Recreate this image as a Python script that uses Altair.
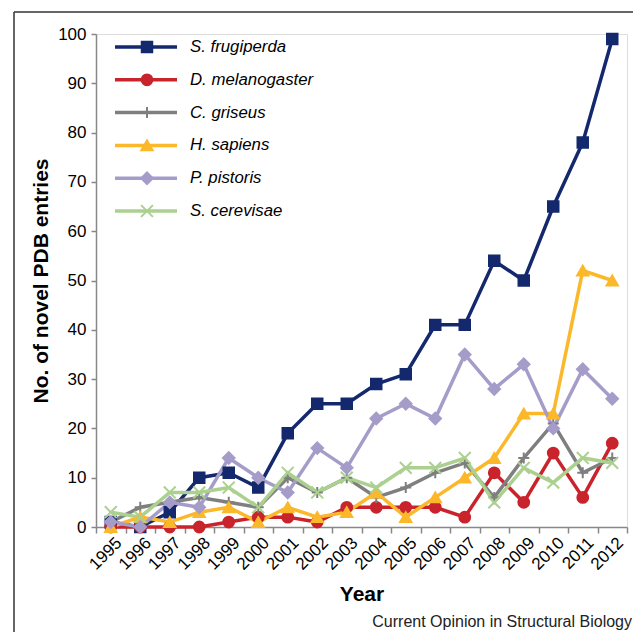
import altair as alt
import pandas as pd

years = [str(y) for y in range(1995, 2013)]
series = ["S. frugiperda", "D. melanogaster", "C. griseus", "H. sapiens", "P. pistoris", "S. cerevisae"]
s_frugiperda = [1, 0, 3, 10, 11, 8, 19, 25, 25, 29, 31, 41, 41, 54, 50, 65, 78, 99]
d_melanogaster = [0, 0, 0, 0, 1, 2, 2, 1, 4, 4, 4, 4, 2, 11, 5, 15, 6, 17]
c_griseus = [1, 4, 5, 6, 5, 4, 10, 7, 10, 6, 8, 11, 13, 6, 14, 21, 11, 14]
h_sapiens = [0, 2, 1, 3, 4, 1, 4, 2, 3, 7, 2, 6, 10, 14, 23, 23, 52, 50]
p_pistoris = [1, 0, 5, 4, 14, 10, 7, 16, 12, 22, 25, 22, 35, 28, 33, 20, 32, 26]
s_cerevisae = [3, 2, 7, 7, 8, 4, 11, 7, 10, 8, 12, 12, 14, 5, 12, 9, 14, 13]
y_ticks = list(range(0, 101, 10))
source_note = ["Current Opinion in Structural Biology"]

colors = ["#14286e", "#c9232b", "#7f7f7f", "#fbb82a", "#a59cc9", "#abd08f"]
fills = ["#14286e", "#c9232b", "transparent", "#fbb82a", "#a59cc9", "transparent"]
shapes = ["square", "circle", "M-1,0H1M0,-1V1", "triangle-up", "diamond", "M-1,-1L1,1M-1,1L1,-1"]
sizes = [110, 140, 256, 170, 190, 220]

values = [s_frugiperda, d_melanogaster, c_griseus, h_sapiens, p_pistoris, s_cerevisae]
rows = []
for name, vals in zip(series, values):
    for yr, v in zip(years, vals):
        rows.append({"year": yr, "series": name, "count": v})
df = pd.DataFrame(rows)
legend_df = pd.DataFrame({"series": series})
note_df = pd.DataFrame({"note": source_note})

FONT = "Liberation Sans"

color_scale = alt.Scale(domain=series, range=colors)
fill_scale = alt.Scale(domain=series, range=fills)
shape_scale = alt.Scale(domain=series, range=shapes)
size_scale = alt.Scale(domain=series, range=sizes)

x_enc = alt.X(
    "year:O",
    sort=years,
    bandPosition=0.5,
    scale=alt.Scale(type="band", paddingInner=0, paddingOuter=0),
    axis=alt.Axis(
        title="Year",
        tickBand="extent",
        labelAngle=315,
        labelAlign="right",
        labelBaseline="middle",
        labelOffset=8,
        labelPadding=7,
        labelFontSize=17,
        labelFont=FONT,
        labelColor="black",
        titleFontSize=21,
        titleFont=FONT,
        titleFontWeight="bold",
        titleColor="black",
        titlePadding=11,
        domainColor="#888888",
        tickColor="#888888",
        tickSize=6,
        domainWidth=1.5,
        tickWidth=1.5,
        grid=False,
    ),
)
y_enc = alt.Y(
    "count:Q",
    scale=alt.Scale(domain=[0, 100], nice=False),
    axis=alt.Axis(
        title="No. of novel PDB entries",
        values=y_ticks,
        labelFontSize=17,
        labelFont=FONT,
        labelColor="black",
        labelPadding=5,
        titleFontSize=21,
        titleFont=FONT,
        titleFontWeight="bold",
        titleColor="black",
        titlePadding=6,
        domainColor="#888888",
        tickColor="#888888",
        tickSize=5,
        domainWidth=1.5,
        tickWidth=1.5,
        grid=False,
    ),
)

color_enc = alt.Color("series:N", scale=color_scale, legend=None)
point_encs = dict(
    fill=alt.Fill("series:N", scale=fill_scale, legend=None),
    stroke=alt.Stroke("series:N", scale=color_scale, legend=None),
    shape=alt.Shape("series:N", scale=shape_scale, legend=None),
    size=alt.Size("series:N", scale=size_scale, legend=None),
)

lines = alt.Chart(df).mark_line(strokeWidth=3.5).encode(x=x_enc, y=y_enc, color=color_enc, detail="series:N")
points = alt.Chart(df).mark_point(opacity=1, filled=False, strokeWidth=2).encode(x=x_enc, y=y_enc, **point_encs)

leg_y = alt.Y("series:N", sort=series, scale=alt.Scale(type="point", range=[13, 177], padding=0), axis=None)
leg_lines = alt.Chart(legend_df).mark_rule(strokeWidth=3.5).encode(
    x=alt.value(19), x2=alt.value(81), y=leg_y, color=color_enc
)
leg_points = alt.Chart(legend_df).mark_point(opacity=1, filled=False, strokeWidth=2).encode(
    x=alt.value(51), y=leg_y, **point_encs
)
leg_text = alt.Chart(legend_df).mark_text(
    align="left", baseline="middle", fontStyle="italic", fontSize=16.8, font=FONT, color="black"
).encode(x=alt.value(94), y=leg_y, text="series:N")

note = alt.Chart(note_df).mark_text(
    align="right", baseline="alphabetic", fontSize=16, font=FONT, color="#222222"
).encode(x=alt.value(536), y=alt.value(593), text="note:N")

frame_data = alt.Data(values=[{"k": 1}])
frame_left = alt.Chart(frame_data).mark_rule(color="#333333", strokeWidth=1.5).encode(
    x=alt.value(-82), y=alt.value(-22), y2=alt.value(620)
)
frame_top = alt.Chart(frame_data).mark_rule(color="#333333", strokeWidth=1.5).encode(
    x=alt.value(-82), x2=alt.value(560), y=alt.value(-22)
)

main = alt.layer(lines, points)
legend = alt.layer(leg_lines, leg_points, leg_text)

chart = (
    alt.layer(frame_left, frame_top, main, legend, note)
    .resolve_scale(y="independent")
    .properties(
        width=531,
        height=493,
        autosize=alt.AutoSizeParams(type="none"),
        padding={"left": 88, "top": 26, "right": 6, "bottom": 105},
    )
    .configure_view(strokeWidth=0)
    .configure(background="white")
)

chart.save("out.html", embed_options={"renderer": "svg", "actions": False})
